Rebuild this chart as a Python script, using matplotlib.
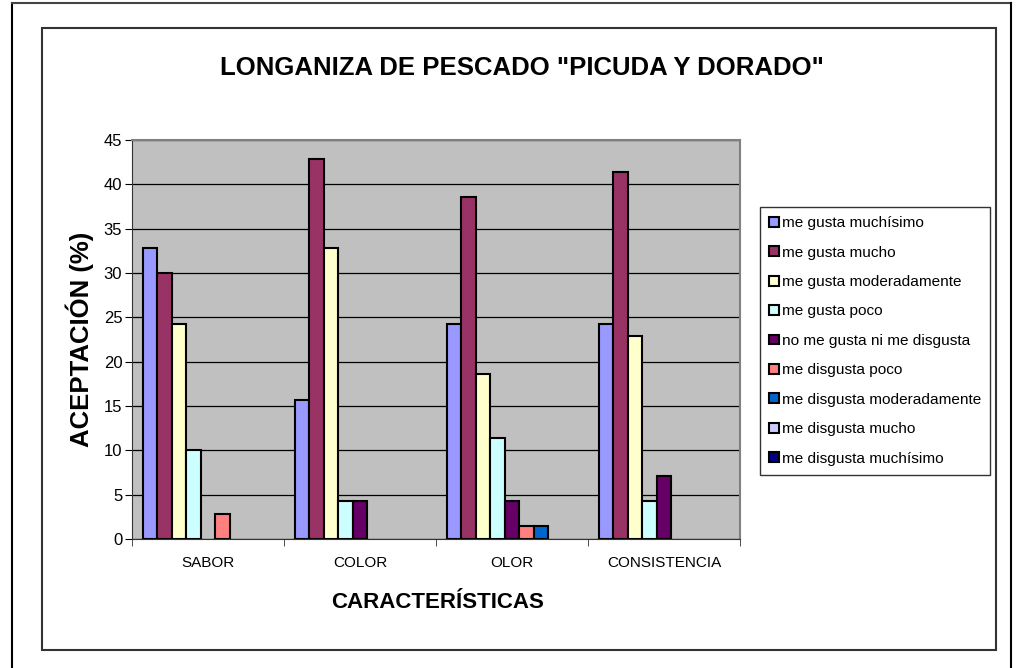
import numpy as np
import matplotlib.pyplot as plt
from matplotlib.patches import Rectangle
from matplotlib.lines import Line2D

plt.rcParams['font.family'] = ['Liberation Sans', 'DejaVu Sans']

categorias = ["SABOR", "COLOR", "OLOR", "CONSISTENCIA"]
series = ["me gusta muchísimo", "me gusta mucho", "me gusta moderadamente",
          "me gusta poco", "no me gusta ni me disgusta", "me disgusta poco",
          "me disgusta moderadamente", "me disgusta mucho", "me disgusta muchísimo"]
colores = ["#9999FF", "#993366", "#FFFFCC", "#CCFFFF", "#660066",
           "#FF8080", "#0066CC", "#CCCCFF", "#000080"]

gusta_muchisimo = [32.86, 15.71, 24.29, 24.29]
gusta_mucho = [30.00, 42.86, 38.57, 41.43]
gusta_moderado = [24.29, 32.86, 18.57, 22.86]
gusta_poco = [10.00, 4.29, 11.43, 4.29]
ni_gusta_ni_disgusta = [0.00, 4.29, 4.29, 7.14]
disgusta_poco = [2.86, 0.00, 1.43, 0.00]
disgusta_moderado = [0.00, 0.00, 1.43, 0.00]
disgusta_mucho = [0.00, 0.00, 0.00, 0.00]
disgusta_muchisimo = [0.00, 0.00, 0.00, 0.00]

valores = [gusta_muchisimo, gusta_mucho, gusta_moderado, gusta_poco,
           ni_gusta_ni_disgusta, disgusta_poco, disgusta_moderado,
           disgusta_mucho, disgusta_muchisimo]

fig = plt.figure(figsize=(10.18, 6.68), dpi=100)

# page frame and chart frame
fig.add_artist(Line2D([12/1018, 12/1018], [0, 1 - 3/668], color="black", lw=1.5))
fig.add_artist(Line2D([12/1018, 1011/1018], [1 - 3/668, 1 - 3/668], color="#444444", lw=1.5))
fig.add_artist(Line2D([1011/1018, 1011/1018], [0, 1 - 3/668], color="black", lw=1.5))
fig.add_artist(Rectangle((42/1018, 1 - 650/668), 954/1018, 622/668, transform=fig.transFigure,
                         fill=False, edgecolor="#333333", lw=1.5))

ax = fig.add_axes([132/1018, 1 - 539/668, 608/1018, 399/668])
ax.set_facecolor("#C0C0C0")

x = np.arange(len(categorias))
w = 1 / 10.5
for i, (nombre, vals, c) in enumerate(zip(series, valores, colores)):
    h = np.array(vals, dtype=float)
    h[h == 0] = np.nan
    ax.bar(x + (i - 4) * w, h, w, color=c, edgecolor="black", linewidth=1.5,
           label=nombre, zorder=3)

ax.set_xlim(-0.5, 3.5)
ax.set_ylim(0, 45)
ax.set_yticks(np.arange(0, 46, 5))
ax.yaxis.grid(True, color="black", lw=0.9, zorder=1)
ax.set_axisbelow(True)
ax.set_xticks(x)
ax.set_xticklabels(categorias, fontsize=11)
ax.set_xticks(np.arange(-0.5, 4, 1), minor=True)
ax.tick_params(axis="x", which="major", length=0, pad=12)
ax.tick_params(axis="x", which="minor", length=5, color="#333333")
ax.tick_params(axis="y", labelsize=12, length=5, pad=2)
for s in ["top", "right"]:
    ax.spines[s].set_color("#808080")
    ax.spines[s].set_linewidth(1.5)
ax.spines["left"].set_color("#333333")
ax.spines["bottom"].set_color("#333333")

fig.text(522/1018, 1 - 68/668, 'LONGANIZA DE PESCADO "PICUDA Y DORADO"',
         ha="center", va="center", fontsize=18.5, fontweight="bold")
fig.text(80/1018, 1 - 339/668, "ACEPTACIÓN (%)", rotation=90,
         ha="center", va="center", fontsize=18.5, fontweight="bold")
fig.text(438/1018, 1 - 603/668, "CARACTERÍSTICAS",
         ha="center", va="center", fontsize=16, fontweight="bold")

leg = fig.legend(loc="upper left", bbox_to_anchor=(760/1018, 1 - 207/668),
                 fontsize=11.1, frameon=True, fancybox=False, edgecolor="black",
                 handlelength=0.6, handleheight=0.6, handletextpad=0.2,
                 labelspacing=1.0, borderpad=0.6, borderaxespad=0)
leg.get_frame().set_linewidth(1.0)

fig.savefig("out.png", dpi=100)
